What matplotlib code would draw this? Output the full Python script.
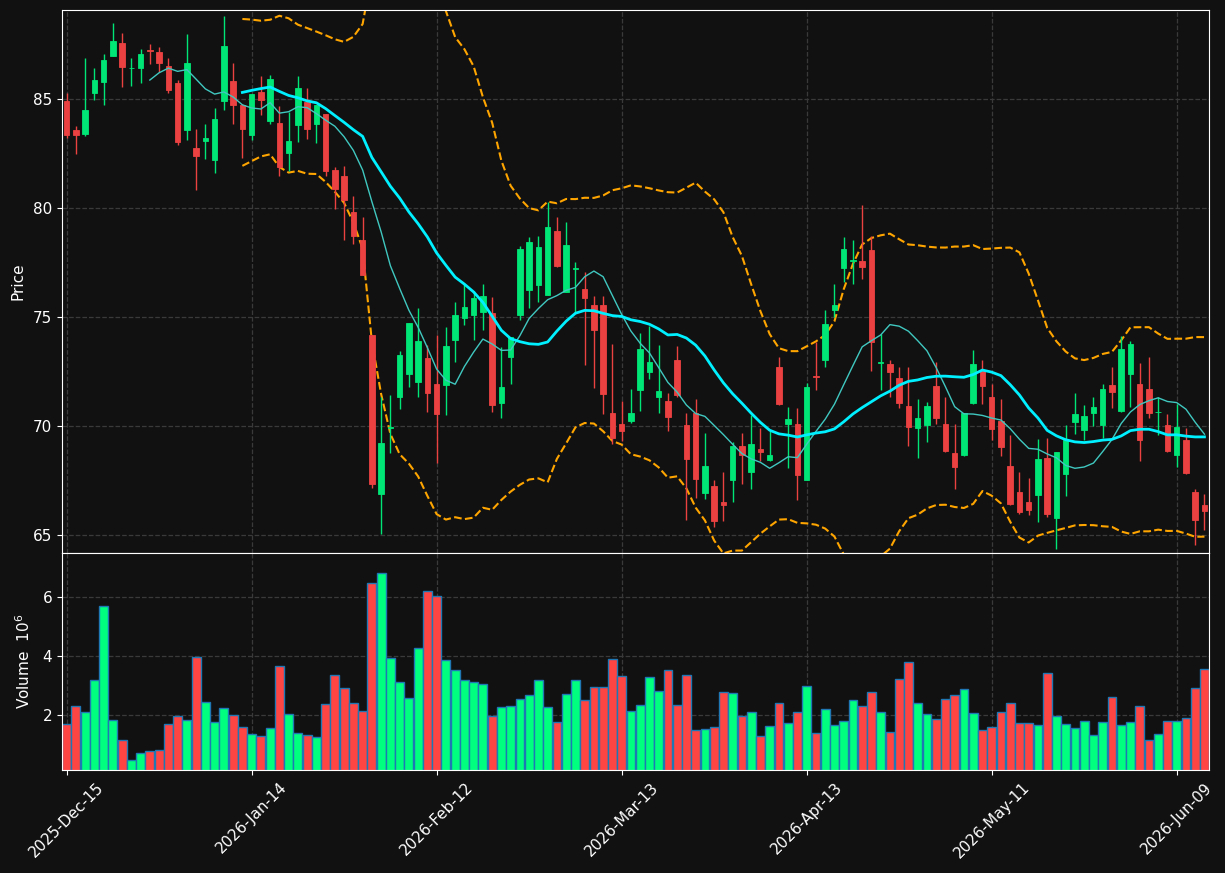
import numpy as np
import pandas as pd
import matplotlib
matplotlib.use("Agg")
import matplotlib.pyplot as plt

# trading days (US holidays skipped)
holidays = ["2025-12-25", "2026-01-01", "2026-01-19", "2026-02-16", "2026-04-03", "2026-05-25"]
dates = pd.bdate_range("2025-12-15", periods=124, freq="C", holidays=holidays)

opens = [84.92, 83.60, 83.40, 85.31, 85.81, 86.97, 87.60, 86.42, 86.42, 87.27,
         87.18, 86.53, 85.76, 83.61, 82.76, 83.10, 82.23, 84.94, 85.84, 84.73,
         83.34, 85.34, 84.02, 83.92, 82.55, 83.84, 84.87, 83.89, 84.32, 81.76,
         81.47, 79.82, 78.53, 74.16, 66.87, 69.93, 71.32, 72.39, 72.02, 73.11,
         71.92, 71.89, 73.94, 74.97, 75.10, 75.24, 75.18, 71.05, 73.16, 75.10,
         76.24, 76.48, 76.02, 78.95, 76.16, 77.22, 76.27, 75.55, 75.55, 70.58,
         70.11, 70.21, 71.65, 72.48, 71.32, 71.13, 73.02, 70.03, 70.61, 66.92,
         67.23, 66.53, 67.52, 69.06, 67.89, 68.95, 68.44, 72.69, 70.11, 70.11,
         67.52, 72.29, 73.02, 75.34, 77.26, 77.57, 77.56, 78.08, 72.90, 72.84,
         72.21, 70.90, 69.90, 70.03, 71.82, 70.08, 68.74, 68.69, 71.05, 72.56,
         71.35, 70.21, 68.15, 66.98, 66.53, 66.82, 68.52, 65.76, 67.79, 70.18,
         69.82, 70.60, 70.05, 71.89, 70.68, 72.39, 71.92, 71.68, 70.62, 70.03,
         68.66, 69.34, 66.95, 66.35]
highs = [85.27, 83.76, 86.89, 86.42, 87.06, 88.50, 88.03, 86.89, 87.31, 87.53,
         87.39, 86.89, 85.87, 87.98, 83.66, 83.85, 84.58, 88.82, 86.66, 84.80,
         85.26, 86.06, 86.11, 84.71, 84.40, 86.05, 85.50, 84.76, 84.34, 81.87,
         81.92, 80.58, 79.61, 74.16, 71.31, 71.44, 73.45, 74.71, 75.44, 73.74,
         74.16, 74.53, 75.71, 76.52, 76.19, 76.52, 75.94, 73.65, 74.08, 78.27,
         78.69, 78.74, 80.27, 79.61, 79.39, 77.52, 77.05, 75.98, 75.95, 73.77,
         71.16, 71.71, 74.29, 74.61, 73.71, 71.53, 73.66, 70.61, 71.26, 69.66,
         67.53, 67.89, 69.26, 69.66, 70.50, 69.90, 69.79, 73.18, 70.87, 70.84,
         71.97, 73.85, 75.34, 76.52, 78.69, 78.52, 80.13, 78.74, 74.21, 73.02,
         72.73, 72.69, 71.23, 71.11, 72.95, 71.34, 70.08, 70.60, 73.50, 73.02,
         71.95, 71.26, 69.60, 67.89, 67.61, 69.42, 69.45, 68.82, 70.05, 71.53,
         70.95, 71.31, 71.92, 72.73, 74.11, 73.92, 72.89, 73.18, 71.31, 70.56,
         71.00, 69.89, 67.11, 66.89]
lows = [83.21, 82.47, 83.31, 84.95, 84.73, 86.97, 85.55, 85.60, 85.74, 86.61,
        86.27, 85.27, 82.89, 83.11, 80.82, 82.24, 81.63, 84.50, 83.89, 82.29,
        83.13, 84.27, 83.85, 81.47, 81.71, 83.06, 83.16, 82.98, 81.50, 79.95,
        78.52, 78.34, 76.92, 67.16, 65.02, 68.77, 70.79, 71.81, 71.35, 70.63,
        68.29, 70.52, 72.94, 74.65, 73.95, 74.40, 70.66, 70.39, 71.95, 74.87,
        75.44, 75.71, 76.00, 77.32, 76.16, 75.21, 72.81, 71.76, 70.55, 69.18,
        69.31, 70.15, 70.68, 72.18, 70.60, 69.79, 71.31, 65.69, 66.68, 66.63,
        65.34, 65.66, 66.52, 67.32, 67.11, 68.37, 68.40, 70.98, 68.08, 66.60,
        67.50, 71.66, 72.73, 75.00, 76.60, 76.50, 76.77, 72.53, 71.65, 71.34,
        70.84, 69.08, 68.53, 69.26, 70.11, 68.82, 67.11, 68.61, 71.03, 71.00,
        69.34, 68.63, 66.38, 65.95, 65.92, 65.60, 65.82, 64.34, 66.79, 69.63,
        69.37, 69.98, 69.47, 70.82, 70.66, 70.85, 68.40, 70.39, 69.58, 68.81,
        68.13, 67.79, 64.55, 65.23]
closes = [83.34, 83.34, 84.52, 85.89, 86.81, 87.68, 86.50, 86.46, 87.08, 87.24,
          86.69, 85.45, 83.05, 86.68, 82.42, 83.23, 84.10, 87.45, 84.76, 83.65,
          85.24, 84.98, 85.94, 81.89, 83.08, 85.52, 83.65, 84.74, 81.73, 80.87,
          80.39, 78.73, 76.95, 67.32, 69.24, 69.97, 73.24, 74.71, 73.89, 71.52,
          70.55, 73.66, 75.08, 75.45, 75.87, 75.95, 70.97, 71.77, 74.08, 78.11,
          78.44, 78.21, 79.13, 77.35, 78.31, 77.26, 75.87, 74.39, 71.47, 69.45,
          69.79, 70.58, 73.52, 72.92, 71.60, 70.40, 71.42, 68.48, 67.56, 68.15,
          65.63, 66.37, 69.06, 68.66, 69.19, 68.79, 68.69, 71.03, 70.31, 67.73,
          71.77, 72.25, 74.68, 75.55, 78.11, 77.61, 77.31, 73.85, 72.94, 72.48,
          71.05, 69.95, 70.35, 70.90, 70.35, 68.87, 68.11, 70.58, 72.84, 71.84,
          69.85, 69.05, 66.40, 66.05, 66.13, 68.47, 65.95, 68.81, 69.34, 70.53,
          70.44, 70.85, 71.68, 71.56, 73.52, 73.76, 69.34, 70.60, 70.66, 68.84,
          69.94, 67.82, 65.68, 66.08]
# volume in millions
volumes = [1.69, 2.31, 2.10, 3.19, 5.69, 1.83, 1.15, 0.47, 0.71, 0.78,
           0.81, 1.69, 1.98, 1.83, 3.97, 2.44, 1.76, 2.24, 2.00, 1.59,
           1.36, 1.29, 1.56, 3.66, 2.03, 1.39, 1.32, 1.25, 2.37, 3.36,
           2.92, 2.41, 2.14, 6.47, 6.81, 3.93, 3.12, 2.58, 4.27, 6.20,
           6.03, 3.86, 3.53, 3.19, 3.12, 3.05, 1.97, 2.27, 2.31, 2.54,
           2.68, 3.19, 2.27, 1.76, 2.71, 3.19, 2.51, 2.95, 2.95, 3.90,
           3.32, 2.14, 2.34, 3.29, 2.81, 3.53, 2.34, 3.36, 1.49, 1.53,
           1.59, 2.78, 2.75, 1.97, 2.10, 1.29, 1.63, 2.41, 1.73, 2.10,
           2.98, 1.39, 2.20, 1.66, 1.80, 2.51, 2.31, 2.78, 2.10, 1.42,
           3.22, 3.80, 2.41, 2.03, 1.86, 2.54, 2.68, 2.88, 2.07, 1.49,
           1.59, 2.10, 2.41, 1.73, 1.73, 1.66, 3.42, 1.97, 1.69, 1.56,
           1.80, 1.32, 1.76, 2.61, 1.66, 1.76, 2.31, 1.15, 1.36, 1.80,
           1.80, 1.90, 2.92, 3.56]

df = pd.DataFrame({"Open": opens, "High": highs, "Low": lows, "Close": closes,
                   "Volume": volumes}, index=dates)
x = np.arange(len(df))
up = df["Close"] >= df["Open"]

bg = "#111111"
up_c, dn_c = "#00ff7f", "#ff4444"
cand_colors = np.where(up, "#00e676", "#eb4141")
vol_colors = np.where(up, up_c, dn_c)

plt.rcParams["font.family"] = "DejaVu Sans"
fig = plt.figure(figsize=(12.25, 8.73), dpi=100, facecolor=bg)
ax = fig.add_axes([0.0506, 0.3666, 0.9364, 0.6219], facecolor=bg)
axv = fig.add_axes([0.0506, 0.1180, 0.9364, 0.2486], facecolor=bg, sharex=ax)

# moving averages and bollinger bands
ma10 = df["Close"].rolling(10).mean()
ma20 = df["Close"].rolling(20).mean()
sd20 = df["Close"].rolling(20).std(ddof=0)
ax.plot(x, ma20 + 2 * sd20, color="#ffa500", lw=1.5, ls="--", zorder=1)
ax.plot(x, ma20 - 2 * sd20, color="#ffa500", lw=1.5, ls="--", zorder=1)
ax.plot(x, ma10, color="#40c8c0", lw=1, zorder=4)
ax.plot(x, ma20, color="#00f0ff", lw=2, zorder=4)

# candles
ax.vlines(x, df["Low"], df["High"], colors=cand_colors, lw=1, zorder=2)
body_lo = np.minimum(df["Open"], df["Close"])
body_h = np.abs(df["Close"] - df["Open"])
ax.bar(x, body_h, width=0.6, bottom=body_lo, color=cand_colors,
       edgecolor=cand_colors, linewidth=0.6, zorder=3)

# volume
axv.bar(x, df["Volume"], width=0.95, color=vol_colors, edgecolor="#1f77b4", linewidth=1)

ax.set_xlim(-0.5, len(df) - 0.5)
ax.set_ylim(64.17, 89.1)
ax.set_yticks([65, 70, 75, 80, 85])
axv.set_ylim(0.3 * min(volumes), 1.1 * max(volumes))
axv.set_yticks([2, 4, 6])

ticks = x[::20]
axv.set_xticks(ticks)
axv.set_xticklabels([d.strftime("%Y-%b-%d") for d in dates[ticks]], rotation=45)
plt.setp(ax.get_xticklabels(), visible=False)

for a in (ax, axv):
    a.grid(True, color="#3a3a3a", ls="--", lw=0.9)
    a.set_axisbelow(True)
    for s in a.spines.values():
        s.set_color("white")
    a.tick_params(colors="white", labelsize=11)

ax.set_ylabel("Price", color="white", fontsize=11)
axv.set_ylabel("Volume  $10^6$", color="white", fontsize=11)
ax.yaxis.set_label_coords(-0.032, 0.5)
axv.yaxis.set_label_coords(-0.025, 0.5)

fig.savefig("out.png", facecolor=bg)
